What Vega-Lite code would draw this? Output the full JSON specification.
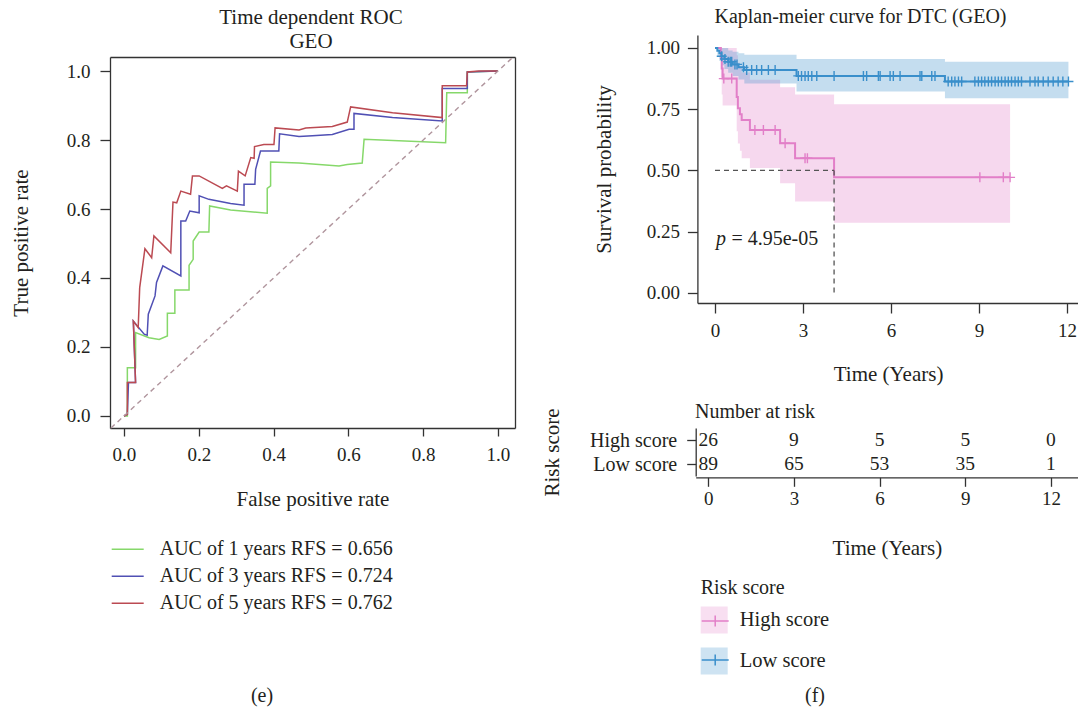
{
"$schema": "https://vega.github.io/schema/vega-lite/v6.json",
"width": 1078, "height": 712, "autosize": "none", "padding": 0, "background": "white",
"config": {
  "view": {"stroke": null},
  "font": "Liberation Serif",
  "axis": {"labelFont": "Liberation Serif", "titleFont": "Liberation Serif", "labelFontSize": 19, "titleFontSize": 21, "titleFontWeight": "normal", "labelColor": "#231f20", "titleColor": "#231f20", "domainColor": "#333333", "tickColor": "#333333", "domainWidth": 1.3, "tickWidth": 1.3, "grid": false, "labelFlush": false, "labelOverlap": false},
  "legend": {"labelFont": "Liberation Serif", "titleFont": "Liberation Serif", "labelColor": "#231f20", "titleColor": "#231f20", "labelLimit": 500},
  "text": {"font": "Liberation Serif"}
},
"datasets": {
"roc": [
{"curve":"AUC of 1 years RFS = 0.656","i":1,"fpr":0,"tpr":0},
{"curve":"AUC of 1 years RFS = 0.656","i":2,"fpr":0.009,"tpr":0},
{"curve":"AUC of 1 years RFS = 0.656","i":3,"fpr":0.009,"tpr":0.14},
{"curve":"AUC of 1 years RFS = 0.656","i":4,"fpr":0.031,"tpr":0.14},
{"curve":"AUC of 1 years RFS = 0.656","i":5,"fpr":0.031,"tpr":0.242},
{"curve":"AUC of 1 years RFS = 0.656","i":6,"fpr":0.067,"tpr":0.227},
{"curve":"AUC of 1 years RFS = 0.656","i":7,"fpr":0.094,"tpr":0.222},
{"curve":"AUC of 1 years RFS = 0.656","i":8,"fpr":0.116,"tpr":0.232},
{"curve":"AUC of 1 years RFS = 0.656","i":9,"fpr":0.116,"tpr":0.298},
{"curve":"AUC of 1 years RFS = 0.656","i":10,"fpr":0.136,"tpr":0.298},
{"curve":"AUC of 1 years RFS = 0.656","i":11,"fpr":0.136,"tpr":0.365},
{"curve":"AUC of 1 years RFS = 0.656","i":12,"fpr":0.174,"tpr":0.365},
{"curve":"AUC of 1 years RFS = 0.656","i":13,"fpr":0.174,"tpr":0.437},
{"curve":"AUC of 1 years RFS = 0.656","i":14,"fpr":0.185,"tpr":0.454},
{"curve":"AUC of 1 years RFS = 0.656","i":15,"fpr":0.185,"tpr":0.507},
{"curve":"AUC of 1 years RFS = 0.656","i":16,"fpr":0.201,"tpr":0.533},
{"curve":"AUC of 1 years RFS = 0.656","i":17,"fpr":0.227,"tpr":0.533},
{"curve":"AUC of 1 years RFS = 0.656","i":18,"fpr":0.229,"tpr":0.609},
{"curve":"AUC of 1 years RFS = 0.656","i":19,"fpr":0.285,"tpr":0.597},
{"curve":"AUC of 1 years RFS = 0.656","i":20,"fpr":0.383,"tpr":0.588},
{"curve":"AUC of 1 years RFS = 0.656","i":21,"fpr":0.383,"tpr":0.66},
{"curve":"AUC of 1 years RFS = 0.656","i":22,"fpr":0.392,"tpr":0.667},
{"curve":"AUC of 1 years RFS = 0.656","i":23,"fpr":0.392,"tpr":0.736},
{"curve":"AUC of 1 years RFS = 0.656","i":24,"fpr":0.468,"tpr":0.733},
{"curve":"AUC of 1 years RFS = 0.656","i":25,"fpr":0.575,"tpr":0.725},
{"curve":"AUC of 1 years RFS = 0.656","i":26,"fpr":0.597,"tpr":0.729},
{"curve":"AUC of 1 years RFS = 0.656","i":27,"fpr":0.637,"tpr":0.733},
{"curve":"AUC of 1 years RFS = 0.656","i":28,"fpr":0.642,"tpr":0.802},
{"curve":"AUC of 1 years RFS = 0.656","i":29,"fpr":0.86,"tpr":0.792},
{"curve":"AUC of 1 years RFS = 0.656","i":30,"fpr":0.863,"tpr":0.937},
{"curve":"AUC of 1 years RFS = 0.656","i":31,"fpr":0.918,"tpr":0.937},
{"curve":"AUC of 1 years RFS = 0.656","i":32,"fpr":0.918,"tpr":0.997},
{"curve":"AUC of 1 years RFS = 0.656","i":33,"fpr":1,"tpr":1},
{"curve":"AUC of 3 years RFS = 0.724","i":1,"fpr":0,"tpr":0},
{"curve":"AUC of 3 years RFS = 0.724","i":2,"fpr":0.009,"tpr":0.005},
{"curve":"AUC of 3 years RFS = 0.724","i":3,"fpr":0.012,"tpr":0.097},
{"curve":"AUC of 3 years RFS = 0.724","i":4,"fpr":0.031,"tpr":0.097},
{"curve":"AUC of 3 years RFS = 0.724","i":5,"fpr":0.025,"tpr":0.275},
{"curve":"AUC of 3 years RFS = 0.724","i":6,"fpr":0.054,"tpr":0.237},
{"curve":"AUC of 3 years RFS = 0.724","i":7,"fpr":0.062,"tpr":0.234},
{"curve":"AUC of 3 years RFS = 0.724","i":8,"fpr":0.065,"tpr":0.295},
{"curve":"AUC of 3 years RFS = 0.724","i":9,"fpr":0.083,"tpr":0.348},
{"curve":"AUC of 3 years RFS = 0.724","i":10,"fpr":0.087,"tpr":0.387},
{"curve":"AUC of 3 years RFS = 0.724","i":11,"fpr":0.104,"tpr":0.435},
{"curve":"AUC of 3 years RFS = 0.724","i":12,"fpr":0.152,"tpr":0.406},
{"curve":"AUC of 3 years RFS = 0.724","i":13,"fpr":0.152,"tpr":0.565},
{"curve":"AUC of 3 years RFS = 0.724","i":14,"fpr":0.165,"tpr":0.565},
{"curve":"AUC of 3 years RFS = 0.724","i":15,"fpr":0.176,"tpr":0.594},
{"curve":"AUC of 3 years RFS = 0.724","i":16,"fpr":0.201,"tpr":0.589},
{"curve":"AUC of 3 years RFS = 0.724","i":17,"fpr":0.201,"tpr":0.638},
{"curve":"AUC of 3 years RFS = 0.724","i":18,"fpr":0.227,"tpr":0.628},
{"curve":"AUC of 3 years RFS = 0.724","i":19,"fpr":0.285,"tpr":0.616},
{"curve":"AUC of 3 years RFS = 0.724","i":20,"fpr":0.321,"tpr":0.611},
{"curve":"AUC of 3 years RFS = 0.724","i":21,"fpr":0.321,"tpr":0.672},
{"curve":"AUC of 3 years RFS = 0.724","i":22,"fpr":0.35,"tpr":0.672},
{"curve":"AUC of 3 years RFS = 0.724","i":23,"fpr":0.352,"tpr":0.715},
{"curve":"AUC of 3 years RFS = 0.724","i":24,"fpr":0.365,"tpr":0.768},
{"curve":"AUC of 3 years RFS = 0.724","i":25,"fpr":0.414,"tpr":0.768},
{"curve":"AUC of 3 years RFS = 0.724","i":26,"fpr":0.416,"tpr":0.818},
{"curve":"AUC of 3 years RFS = 0.724","i":27,"fpr":0.468,"tpr":0.81},
{"curve":"AUC of 3 years RFS = 0.724","i":28,"fpr":0.504,"tpr":0.812},
{"curve":"AUC of 3 years RFS = 0.724","i":29,"fpr":0.557,"tpr":0.816},
{"curve":"AUC of 3 years RFS = 0.724","i":30,"fpr":0.602,"tpr":0.831},
{"curve":"AUC of 3 years RFS = 0.724","i":31,"fpr":0.615,"tpr":0.831},
{"curve":"AUC of 3 years RFS = 0.724","i":32,"fpr":0.615,"tpr":0.877},
{"curve":"AUC of 3 years RFS = 0.724","i":33,"fpr":0.718,"tpr":0.865},
{"curve":"AUC of 3 years RFS = 0.724","i":34,"fpr":0.851,"tpr":0.855},
{"curve":"AUC of 3 years RFS = 0.724","i":35,"fpr":0.851,"tpr":0.949},
{"curve":"AUC of 3 years RFS = 0.724","i":36,"fpr":0.918,"tpr":0.949},
{"curve":"AUC of 3 years RFS = 0.724","i":37,"fpr":0.918,"tpr":0.997},
{"curve":"AUC of 3 years RFS = 0.724","i":38,"fpr":1,"tpr":1},
{"curve":"AUC of 5 years RFS = 0.762","i":1,"fpr":0,"tpr":0},
{"curve":"AUC of 5 years RFS = 0.762","i":2,"fpr":0.009,"tpr":0.005},
{"curve":"AUC of 5 years RFS = 0.762","i":3,"fpr":0.009,"tpr":0.097},
{"curve":"AUC of 5 years RFS = 0.762","i":4,"fpr":0.031,"tpr":0.097},
{"curve":"AUC of 5 years RFS = 0.762","i":5,"fpr":0.025,"tpr":0.275},
{"curve":"AUC of 5 years RFS = 0.762","i":6,"fpr":0.038,"tpr":0.256},
{"curve":"AUC of 5 years RFS = 0.762","i":7,"fpr":0.042,"tpr":0.372},
{"curve":"AUC of 5 years RFS = 0.762","i":8,"fpr":0.056,"tpr":0.485},
{"curve":"AUC of 5 years RFS = 0.762","i":9,"fpr":0.074,"tpr":0.459},
{"curve":"AUC of 5 years RFS = 0.762","i":10,"fpr":0.08,"tpr":0.522},
{"curve":"AUC of 5 years RFS = 0.762","i":11,"fpr":0.125,"tpr":0.473},
{"curve":"AUC of 5 years RFS = 0.762","i":12,"fpr":0.131,"tpr":0.62},
{"curve":"AUC of 5 years RFS = 0.762","i":13,"fpr":0.141,"tpr":0.618},
{"curve":"AUC of 5 years RFS = 0.762","i":14,"fpr":0.152,"tpr":0.652},
{"curve":"AUC of 5 years RFS = 0.762","i":15,"fpr":0.178,"tpr":0.643},
{"curve":"AUC of 5 years RFS = 0.762","i":16,"fpr":0.183,"tpr":0.696},
{"curve":"AUC of 5 years RFS = 0.762","i":17,"fpr":0.201,"tpr":0.696},
{"curve":"AUC of 5 years RFS = 0.762","i":18,"fpr":0.263,"tpr":0.66},
{"curve":"AUC of 5 years RFS = 0.762","i":19,"fpr":0.274,"tpr":0.667},
{"curve":"AUC of 5 years RFS = 0.762","i":20,"fpr":0.303,"tpr":0.652},
{"curve":"AUC of 5 years RFS = 0.762","i":21,"fpr":0.306,"tpr":0.71},
{"curve":"AUC of 5 years RFS = 0.762","i":22,"fpr":0.324,"tpr":0.696},
{"curve":"AUC of 5 years RFS = 0.762","i":23,"fpr":0.339,"tpr":0.749},
{"curve":"AUC of 5 years RFS = 0.762","i":24,"fpr":0.348,"tpr":0.747},
{"curve":"AUC of 5 years RFS = 0.762","i":25,"fpr":0.349,"tpr":0.781},
{"curve":"AUC of 5 years RFS = 0.762","i":26,"fpr":0.374,"tpr":0.787},
{"curve":"AUC of 5 years RFS = 0.762","i":27,"fpr":0.401,"tpr":0.787},
{"curve":"AUC of 5 years RFS = 0.762","i":28,"fpr":0.404,"tpr":0.835},
{"curve":"AUC of 5 years RFS = 0.762","i":29,"fpr":0.468,"tpr":0.829},
{"curve":"AUC of 5 years RFS = 0.762","i":30,"fpr":0.486,"tpr":0.835},
{"curve":"AUC of 5 years RFS = 0.762","i":31,"fpr":0.557,"tpr":0.839},
{"curve":"AUC of 5 years RFS = 0.762","i":32,"fpr":0.597,"tpr":0.852},
{"curve":"AUC of 5 years RFS = 0.762","i":33,"fpr":0.606,"tpr":0.896},
{"curve":"AUC of 5 years RFS = 0.762","i":34,"fpr":0.718,"tpr":0.879},
{"curve":"AUC of 5 years RFS = 0.762","i":35,"fpr":0.851,"tpr":0.865},
{"curve":"AUC of 5 years RFS = 0.762","i":36,"fpr":0.851,"tpr":0.957},
{"curve":"AUC of 5 years RFS = 0.762","i":37,"fpr":0.916,"tpr":0.957},
{"curve":"AUC of 5 years RFS = 0.762","i":38,"fpr":0.918,"tpr":0.997},
{"curve":"AUC of 5 years RFS = 0.762","i":39,"fpr":0.949,"tpr":1},
{"curve":"AUC of 5 years RFS = 0.762","i":40,"fpr":1,"tpr":1}
],
"km": [
{"grp":"High score","t":0,"s":1},{"grp":"High score","t":0.2,"s":0.958},{"grp":"High score","t":0.23,"s":0.916},{"grp":"High score","t":0.26,"s":0.875},{"grp":"High score","t":0.74,"s":0.8},{"grp":"High score","t":0.78,"s":0.754},{"grp":"High score","t":0.85,"s":0.73},{"grp":"High score","t":0.91,"s":0.706},{"grp":"High score","t":1.19,"s":0.665},{"grp":"High score","t":2.22,"s":0.611},{"grp":"High score","t":2.73,"s":0.55},{"grp":"High score","t":4.06,"s":0.472},{"grp":"High score","t":10.06,"s":0.472},
{"grp":"Low score","t":0,"s":1},{"grp":"Low score","t":0.08,"s":0.989},{"grp":"Low score","t":0.15,"s":0.978},{"grp":"Low score","t":0.22,"s":0.966},{"grp":"Low score","t":0.32,"s":0.955},{"grp":"Low score","t":0.45,"s":0.944},{"grp":"Low score","t":0.6,"s":0.933},{"grp":"Low score","t":0.8,"s":0.921},{"grp":"Low score","t":1.0,"s":0.91},{"grp":"Low score","t":2.78,"s":0.886},{"grp":"Low score","t":7.84,"s":0.863},{"grp":"Low score","t":12.05,"s":0.863}
],
"ci": [
{"grp":"High score","t":0,"lo":1,"hi":1},{"grp":"High score","t":0.2,"lo":0.88,"hi":1},{"grp":"High score","t":0.23,"lo":0.81,"hi":1},{"grp":"High score","t":0.26,"lo":0.765,"hi":1},{"grp":"High score","t":0.74,"lo":0.66,"hi":0.97},{"grp":"High score","t":0.78,"lo":0.61,"hi":0.94},{"grp":"High score","t":0.85,"lo":0.58,"hi":0.92},{"grp":"High score","t":0.91,"lo":0.55,"hi":0.9},{"grp":"High score","t":1.19,"lo":0.51,"hi":0.87},{"grp":"High score","t":2.22,"lo":0.448,"hi":0.84},{"grp":"High score","t":2.73,"lo":0.373,"hi":0.81},{"grp":"High score","t":4.06,"lo":0.287,"hi":0.77},{"grp":"High score","t":10.06,"lo":0.287,"hi":0.77},
{"grp":"Low score","t":0,"lo":1,"hi":1},{"grp":"Low score","t":0.08,"lo":0.967,"hi":1},{"grp":"Low score","t":0.15,"lo":0.947,"hi":1},{"grp":"Low score","t":0.22,"lo":0.93,"hi":1},{"grp":"Low score","t":0.32,"lo":0.914,"hi":1},{"grp":"Low score","t":0.45,"lo":0.899,"hi":0.99},{"grp":"Low score","t":0.6,"lo":0.886,"hi":0.985},{"grp":"Low score","t":0.8,"lo":0.871,"hi":0.978},{"grp":"Low score","t":1.0,"lo":0.855,"hi":0.972},{"grp":"Low score","t":2.78,"lo":0.822,"hi":0.955},{"grp":"Low score","t":7.84,"lo":0.795,"hi":0.944},{"grp":"Low score","t":12.05,"lo":0.795,"hi":0.944}
],
"cens": [
{"grp":"High score","t":0.3,"s":0.875},{"grp":"High score","t":0.57,"s":0.875},{"grp":"High score","t":1.36,"s":0.665},{"grp":"High score","t":1.65,"s":0.665},{"grp":"High score","t":2.05,"s":0.665},{"grp":"High score","t":2.39,"s":0.611},{"grp":"High score","t":3.07,"s":0.55},{"grp":"High score","t":3.15,"s":0.55},{"grp":"High score","t":9.03,"s":0.472},{"grp":"High score","t":9.83,"s":0.472},{"grp":"High score","t":10.06,"s":0.472},
{"grp":"Low score","t":0.23,"s":0.966},{"grp":"Low score","t":0.34,"s":0.955},{"grp":"Low score","t":0.45,"s":0.944},{"grp":"Low score","t":0.52,"s":0.944},{"grp":"Low score","t":0.57,"s":0.944},{"grp":"Low score","t":0.68,"s":0.933},{"grp":"Low score","t":0.75,"s":0.933},{"grp":"Low score","t":0.97,"s":0.921},{"grp":"Low score","t":1.08,"s":0.91},{"grp":"Low score","t":1.25,"s":0.91},{"grp":"Low score","t":1.42,"s":0.91},{"grp":"Low score","t":1.59,"s":0.91},{"grp":"Low score","t":1.82,"s":0.91},{"grp":"Low score","t":2.05,"s":0.91},
{"grp":"Low score","t":2.84,"s":0.886},{"grp":"Low score","t":2.95,"s":0.886},{"grp":"Low score","t":3.07,"s":0.886},{"grp":"Low score","t":3.18,"s":0.886},{"grp":"Low score","t":3.3,"s":0.886},{"grp":"Low score","t":3.47,"s":0.886},{"grp":"Low score","t":4.06,"s":0.886},{"grp":"Low score","t":5.06,"s":0.886},{"grp":"Low score","t":5.17,"s":0.886},{"grp":"Low score","t":5.57,"s":0.886},{"grp":"Low score","t":5.63,"s":0.886},{"grp":"Low score","t":5.97,"s":0.886},{"grp":"Low score","t":6.08,"s":0.886},{"grp":"Low score","t":6.31,"s":0.886},{"grp":"Low score","t":6.99,"s":0.886},{"grp":"Low score","t":7.05,"s":0.886},{"grp":"Low score","t":7.39,"s":0.886},{"grp":"Low score","t":7.5,"s":0.886},
{"grp":"Low score","t":7.95,"s":0.863},{"grp":"Low score","t":8.07,"s":0.863},{"grp":"Low score","t":8.18,"s":0.863},{"grp":"Low score","t":8.3,"s":0.863},{"grp":"Low score","t":8.41,"s":0.863},{"grp":"Low score","t":8.86,"s":0.863},{"grp":"Low score","t":8.98,"s":0.863},{"grp":"Low score","t":9.09,"s":0.863},{"grp":"Low score","t":9.2,"s":0.863},{"grp":"Low score","t":9.32,"s":0.863},{"grp":"Low score","t":9.43,"s":0.863},{"grp":"Low score","t":9.55,"s":0.863},{"grp":"Low score","t":9.66,"s":0.863},{"grp":"Low score","t":9.77,"s":0.863},{"grp":"Low score","t":9.89,"s":0.863},{"grp":"Low score","t":10.0,"s":0.863},{"grp":"Low score","t":10.11,"s":0.863},{"grp":"Low score","t":10.23,"s":0.863},{"grp":"Low score","t":10.34,"s":0.863},{"grp":"Low score","t":10.45,"s":0.863},{"grp":"Low score","t":10.74,"s":0.863},{"grp":"Low score","t":10.91,"s":0.863},{"grp":"Low score","t":11.02,"s":0.863},{"grp":"Low score","t":11.19,"s":0.863},{"grp":"Low score","t":11.36,"s":0.863},{"grp":"Low score","t":11.53,"s":0.863},{"grp":"Low score","t":11.7,"s":0.863},{"grp":"Low score","t":11.86,"s":0.863},{"grp":"Low score","t":12.05,"s":0.863}
],
"risk": [
{"grp":"High score","t":0,"n":26},{"grp":"High score","t":3,"n":9},{"grp":"High score","t":6,"n":5},{"grp":"High score","t":9,"n":5},{"grp":"High score","t":12,"n":0},
{"grp":"Low score","t":0,"n":89},{"grp":"Low score","t":3,"n":65},{"grp":"Low score","t":6,"n":53},{"grp":"Low score","t":9,"n":35},{"grp":"Low score","t":12,"n":1}
]
},
"layer": [
{
  "layer": [
    {"data": {"name": "roc"}, "mark": {"type": "line", "strokeWidth": 1.5},
     "encoding": {
       "x": {"field": "fpr", "type": "quantitative", "scale": {"domain": [-0.0374, 1.0455], "range": [110, 515], "nice": false, "zero": false},
             "axis": {"orient": "bottom", "offset": -284, "values": [0, 0.2, 0.4, 0.6, 0.8, 1], "format": ".1f", "tickSize": 8, "labelPadding": 9, "labelFont": "Liberation Serif", "titleFont": "Liberation Serif", "title": "False positive rate", "titlePadding": 24}},
       "y": {"field": "tpr", "type": "quantitative", "scale": {"domain": [-0.0348, 1.0406], "range": [428, 57], "nice": false, "zero": false},
             "axis": {"orient": "left", "offset": -110, "values": [0, 0.2, 0.4, 0.6, 0.8, 1], "format": ".1f", "tickSize": 10, "labelPadding": 10, "labelFont": "Liberation Serif", "titleFont": "Liberation Serif", "title": "True positive rate", "titlePadding": 35}},
       "color": {"field": "curve", "type": "nominal",
                 "scale": {"domain": ["AUC of 1 years RFS = 0.656", "AUC of 3 years RFS = 0.724", "AUC of 5 years RFS = 0.762"], "range": ["#86d86a", "#5050b4", "#bb4a52"]},
                 "legend": {"orient": "none", "legendX": 110.7, "legendY": 532.3, "title": null, "symbolType": "stroke", "symbolSize": 1024, "symbolStrokeWidth": 1.6, "labelFont": "Liberation Serif", "labelFontSize": 20, "labelLimit": 500, "labelOffset": 15, "rowPadding": -4}},
       "order": {"field": "i", "type": "quantitative"}
     }},
    {"data": {"values": [{}]}, "mark": {"type": "rule", "strokeDash": [5, 4], "color": "#b0959d", "strokeWidth": 1.4},
     "encoding": {
       "x": {"datum": -0.0348, "axis": {"orient": "top", "offset": -57, "ticks": false, "labels": false, "title": null}},
       "y": {"datum": -0.0348, "axis": {"orient": "right", "offset": -563, "ticks": false, "labels": false, "title": null}},
       "x2": {"datum": 1.0406}, "y2": {"datum": 1.0406}}},
    {"data": {"values": [{}]}, "mark": {"type": "text", "text": ["Time dependent ROC", "GEO"], "font": "Liberation Serif", "fontSize": 21, "lineHeight": 24, "align": "center", "baseline": "alphabetic", "fill": "#231f20"},
     "encoding": {"x": {"datum": 0.5, "axis": null}, "y": {"datum": 1.1362, "axis": null}}},
    {"data": {"values": [{}]}, "mark": {"type": "text", "text": "(e)", "font": "Liberation Serif", "fontSize": 20, "align": "center", "baseline": "alphabetic", "fill": "#231f20"},
     "encoding": {"x": {"datum": 0.369, "axis": null}, "y": {"datum": -0.829, "axis": null}}}
  ],
  "resolve": {"axis": {"x": "independent", "y": "independent"}}
},
{
  "layer": [
    {"data": {"name": "ci"}, "mark": {"type": "area", "interpolate": "step-after", "fillOpacity": 0.3},
     "encoding": {
       "x": {"field": "t", "type": "quantitative", "axis": null},
       "y": {"field": "lo", "type": "quantitative", "axis": null},
       "y2": {"field": "hi"},
       "fill": {"field": "grp", "type": "nominal", "scale": {"range": ["#e27fc8", "#3a8fcb"]},
                "legend": {"orient": "none", "legendX": 700.7, "legendY": 577.5, "title": "Risk score", "titleFont": "Liberation Serif", "titleFontSize": 20, "titleFontWeight": "normal", "titlePadding": 9, "symbolType": "square", "symbolSize": 729, "symbolStrokeWidth": 0, "symbolOpacity": 0.25, "labelFont": "Liberation Serif", "labelFontSize": 20.5, "labelOffset": 12, "rowPadding": 14}}}},
    {"data": {"name": "km"}, "mark": {"type": "line", "interpolate": "step-after", "strokeWidth": 2},
     "encoding": {
       "x": {"field": "t", "type": "quantitative", "scale": {"domain": [-0.6, 12.4], "range": [697.4, 1078.7], "nice": false, "zero": false},
             "axis": {"orient": "bottom", "offset": -409, "values": [0, 3, 6, 9, 12], "tickSize": 10, "labelPadding": 8, "labelFont": "Liberation Serif", "titleFont": "Liberation Serif", "title": "Time (Years)", "titlePadding": 23}},
       "y": {"field": "s", "type": "quantitative", "scale": {"domain": [-0.041, 1.053], "range": [303, 35], "nice": false, "zero": false},
             "axis": {"orient": "left", "offset": -697.4, "values": [0, 0.25, 0.5, 0.75, 1], "format": ".2f", "tickSize": 10, "labelPadding": 8, "labelFont": "Liberation Serif", "titleFont": "Liberation Serif", "title": "Survival probability", "titlePadding": 32}},
       "stroke": {"field": "grp", "type": "nominal", "scale": {"range": ["#e27fc8", "#3a8fcb"]},
                  "legend": {"orient": "none", "legendX": 700.7, "legendY": 577.5, "title": "Risk score", "titleFont": "Liberation Serif", "titleFontSize": 20, "titleFontWeight": "normal", "titlePadding": 9, "titleOpacity": 0, "labelOpacity": 0, "symbolType": "M-1,0H1M0,-0.4V0.4", "symbolSize": 729, "symbolStrokeWidth": 1.5, "symbolFillColor": "transparent", "labelFont": "Liberation Serif", "labelFontSize": 20.5, "labelOffset": 12, "rowPadding": 14}}}},
    {"data": {"name": "cens"}, "mark": {"type": "point", "shape": "M-1,0H1M0,-1V1", "filled": false, "size": 100, "strokeWidth": 1.4, "opacity": 1},
     "encoding": {
       "x": {"field": "t", "type": "quantitative", "axis": null},
       "y": {"field": "s", "type": "quantitative", "axis": null},
       "stroke": {"field": "grp", "type": "nominal"}}},
    {"data": {"values": [{}]}, "mark": {"type": "rule", "strokeDash": [5, 4], "color": "#555555", "strokeWidth": 1.3},
     "encoding": {"x": {"datum": 0, "axis": null}, "x2": {"datum": 4.06}, "y": {"datum": 0.5, "axis": null}}},
    {"data": {"values": [{}]}, "mark": {"type": "rule", "strokeDash": [5, 4], "color": "#555555", "strokeWidth": 1.3},
     "encoding": {"x": {"datum": 4.06, "axis": null}, "y": {"datum": 0.5, "axis": null}, "y2": {"datum": 0}}},
    {"data": {"values": [{}]}, "mark": {"type": "text", "text": "p", "font": "Liberation Serif", "fontStyle": "italic", "fontSize": 20, "align": "left", "baseline": "alphabetic", "fill": "#231f20"},
     "encoding": {"x": {"datum": 0.034, "axis": null}, "y": {"datum": 0.1957, "axis": null}}},
    {"data": {"values": [{}]}, "mark": {"type": "text", "text": "= 4.95e-05", "font": "Liberation Serif", "fontSize": 20, "align": "left", "baseline": "alphabetic", "fill": "#231f20"},
     "encoding": {"x": {"datum": 0.56, "axis": null}, "y": {"datum": 0.1957, "axis": null}}},
    {"data": {"values": [{}]}, "mark": {"type": "text", "text": "Kaplan-meier curve for DTC (GEO)", "font": "Liberation Serif", "fontSize": 20, "align": "center", "baseline": "alphabetic", "fill": "#231f20"},
     "encoding": {"x": {"datum": 4.96, "axis": null}, "y": {"datum": 1.102, "axis": null}}},
    {"data": {"values": [{}]}, "mark": {"type": "text", "text": "Number at risk", "font": "Liberation Serif", "fontSize": 20, "align": "left", "baseline": "alphabetic", "fill": "#231f20"},
     "encoding": {"x": {"datum": -0.682, "axis": null}, "y": {"datum": -0.5104, "axis": null}}},
    {"data": {"values": [{}]}, "mark": {"type": "text", "text": "(f)", "font": "Liberation Serif", "fontSize": 20, "align": "center", "baseline": "alphabetic", "fill": "#231f20"},
     "encoding": {"x": {"datum": 3.41, "axis": null}, "y": {"datum": -1.6696, "axis": null}}}
  ],
  "resolve": {"axis": {"x": "independent", "y": "independent"}}
},
{
  "data": {"name": "risk"}, "mark": {"type": "text", "font": "Liberation Serif", "fontSize": 19.5, "fill": "#231f20"},
  "encoding": {
    "x": {"field": "t", "type": "quantitative", "scale": {"domain": [-0.44, 12.95], "range": [695.7, 1078.1], "nice": false, "zero": false},
          "axis": {"orient": "bottom", "offset": -234.7, "values": [0, 3, 6, 9, 12], "tickSize": 9, "labelPadding": 3, "labelFont": "Liberation Serif", "titleFont": "Liberation Serif", "title": "Time (Years)", "titlePadding": 29}},
    "y": {"field": "grp", "type": "nominal", "scale": {"range": [428, 476]},
          "axis": {"orient": "left", "offset": -695.7, "tickSize": 9, "labelPadding": 10, "labelFontSize": 20, "labelFont": "Liberation Serif", "titleFont": "Liberation Serif", "title": "Risk score", "titlePadding": 27}},
    "text": {"field": "n", "type": "quantitative"}
  }
}
],
"resolve": {"scale": {"x": "independent", "y": "independent"}}
}
